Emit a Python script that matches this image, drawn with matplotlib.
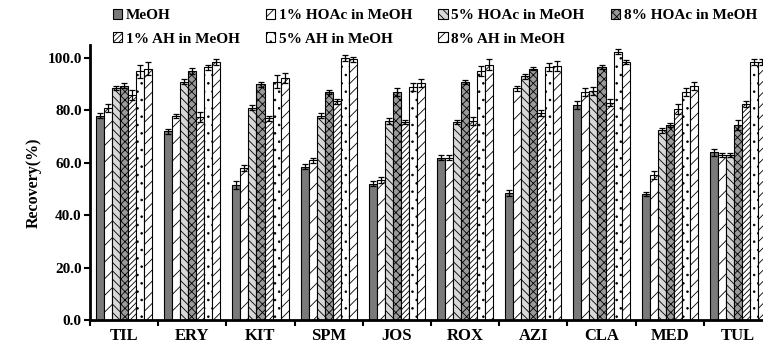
import numpy as np
import matplotlib
matplotlib.use("Agg")
import matplotlib.pyplot as plt

plt.rcParams['font.family'] = ['Liberation Serif', 'DejaVu Serif']
plt.rcParams['font.weight'] = 'bold'
plt.rcParams['hatch.linewidth'] = 0.6

categories = ["TIL", "ERY", "KIT", "SPM", "JOS", "ROX", "AZI", "CLA", "MED", "TUL"]
series_names = ["MeOH", "1% HOAc in MeOH", "5% HOAc in MeOH", "8% HOAc in MeOH",
                "1% AH in MeOH", "5% AH in MeOH", "8% AH in MeOH"]

meoh      = [78.0, 72.0, 51.5, 58.5, 52.0, 62.0, 48.5, 82.0, 48.0, 64.0]
hoac1     = [81.0, 78.0, 58.0, 61.0, 53.5, 62.0, 88.5, 87.0, 55.5, 63.0]
hoac5     = [88.5, 91.0, 81.0, 78.0, 76.0, 75.5, 93.0, 87.5, 72.5, 63.0]
hoac8     = [89.5, 95.0, 90.0, 87.0, 87.0, 91.0, 96.0, 96.5, 74.5, 74.5]
ah1       = [86.0, 77.5, 77.0, 83.5, 75.5, 76.0, 79.0, 83.0, 80.5, 82.5]
ah5       = [95.0, 96.5, 91.0, 100.0, 89.0, 95.0, 96.5, 102.5, 87.0, 98.5]
ah8       = [96.0, 98.5, 92.5, 99.5, 90.5, 97.5, 97.0, 98.5, 89.5, 98.5]

err_meoh  = [1.0, 0.8, 1.5, 1.0, 1.0, 1.0, 1.0, 1.5, 0.8, 1.2]
err_hoac1 = [1.5, 0.8, 1.2, 1.0, 1.0, 1.0, 1.0, 1.5, 1.5, 0.8]
err_hoac5 = [0.8, 1.0, 1.0, 1.0, 1.0, 0.8, 1.0, 1.5, 1.0, 0.8]
err_hoac8 = [1.0, 1.2, 1.0, 0.8, 1.5, 0.8, 0.5, 0.8, 0.8, 2.0]
err_ah1   = [2.0, 2.0, 1.0, 1.0, 0.8, 1.5, 1.0, 1.2, 1.8, 1.0]
err_ah5   = [2.5, 1.0, 2.5, 1.0, 1.5, 2.0, 1.5, 1.0, 1.5, 1.0]
err_ah8   = [2.5, 1.0, 2.0, 1.0, 1.5, 2.0, 2.0, 0.8, 1.5, 1.0]

values = [meoh, hoac1, hoac5, hoac8, ah1, ah5, ah8]
errors = [err_meoh, err_hoac1, err_hoac5, err_hoac8, err_ah1, err_ah5, err_ah8]

faces = ["#7a7a7a", "white", "#d8d8d8", "#9a9a9a", "white", "white", "white"]
hatches = [None, "//", "\\\\\\\\", "xxxx", "//////", "..", "///"]

fig = plt.figure(figsize=(7.63, 3.45), dpi=100)
ax = fig.add_axes([90/763, 25/345, 682/763, 275/345])

x = np.arange(len(categories))
w = 0.118
n = len(values)
handles = []
for i in range(n):
    pos = x + (i - (n - 1) / 2) * w
    b = ax.bar(pos, values[i], width=w, color=faces[i], edgecolor="black",
               linewidth=0.8, hatch=hatches[i], label=series_names[i],
               yerr=errors[i], capsize=2.5,
               error_kw=dict(elinewidth=0.9, capthick=0.9, ecolor="black"))
    handles.append(b)

ax.set_xlim(-0.5, len(categories) - 0.5)
ax.set_ylim(0, 105)
ax.set_yticks(np.arange(0, 101, 20))
ax.set_yticklabels([f"{v:.1f}" for v in np.arange(0, 101, 20)], fontsize=11, fontweight='bold')
ax.set_xticks(x)
ax.set_xticklabels(categories, fontsize=12, fontweight='bold')
ax.set_xticks(np.arange(-0.5, len(categories), 1), minor=True)
ax.tick_params(axis='x', which='major', length=0, pad=6)
ax.tick_params(axis='x', which='minor', length=4, width=1.5, direction='out')
ax.tick_params(axis='y', length=4, width=1.5, direction='out', pad=2)
ax.set_ylabel("Recovery(%)", fontsize=11.5, fontweight='bold', labelpad=4)

for s in ["top", "right"]:
    ax.spines[s].set_visible(False)
for s in ["left", "bottom"]:
    ax.spines[s].set_linewidth(2)

order = [0, 4, 1, 5, 2, 6, 3]
leg = fig.legend([handles[k] for k in order], [series_names[k] for k in order],
                 ncol=4, loc="upper left", bbox_to_anchor=(104/763, 1.0),
                 frameon=False, prop={'size': 11, 'weight': 'bold'},
                 handlelength=0.6, handleheight=0.6, handletextpad=0.25,
                 columnspacing=1.7, labelspacing=0.65, borderaxespad=0.2)

fig.savefig("out.png", dpi=100)
